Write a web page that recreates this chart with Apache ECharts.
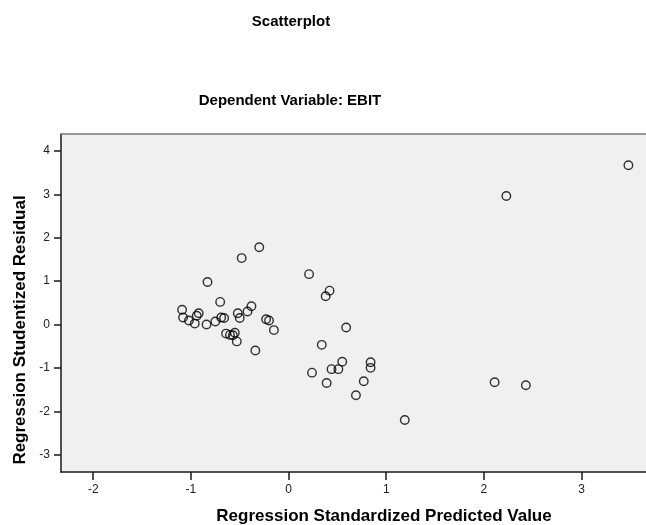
<!DOCTYPE html>
<html>
<head>
<meta charset="utf-8">
<script src="https://cdn.jsdelivr.net/npm/echarts@6/dist/echarts.min.js"></script>
<style>
html,body{margin:0;padding:0;background:#fff;}
#chart{width:646px;height:525px;}
</style>
</head>
<body>
<div id="chart"></div>
<script>
// Regression Standardized Predicted Value (x) and Studentized Residual (y)
var predicted = [-0.30, -0.48, -0.83, 0.21, 0.42, 0.38, -1.09, -1.08, -1.02, -0.96, -0.94, -0.92, -0.84, -0.75, -0.70, -0.69, -0.66, -0.64, -0.60, -0.57, -0.55, -0.53, -0.52, -0.50, -0.42, -0.38, -0.34, -0.23, -0.20, -0.15, 0.24, 0.34, 0.39, 0.44, 0.59, 0.55, 0.51, 0.84, 0.84, 0.77, 0.69, 1.19, 2.11, 2.43, 2.23, 3.48];
var residual  = [1.78, 1.53, 0.98, 1.16, 0.78, 0.65, 0.34, 0.16, 0.09, 0.02, 0.20, 0.26, 0.00, 0.07, 0.52, 0.16, 0.15, -0.21, -0.24, -0.25, -0.19, -0.39, 0.26, 0.15, 0.30, 0.42, -0.60, 0.12, 0.09, -0.13, -1.11, -0.47, -1.35, -1.03, -0.07, -0.86, -1.03, -0.87, -1.00, -1.31, -1.63, -2.20, -1.33, -1.40, 2.96, 3.67];
var xTicks = [-2, -1, 0, 1, 2, 3];
var yTicks = [-3, -2, -1, 0, 1, 2, 3, 4];
var chartTitle = 'Scatterplot';
var chartSubtitle = 'Dependent Variable: EBIT';
var xTitle = 'Regression Standardized Predicted Value';
var yTitle = 'Regression Studentized Residual';

var points = predicted.map(function (v, i) { return [v, residual[i]]; });

var chart = echarts.init(document.getElementById('chart'), null, {renderer: 'canvas'});
var FONT = '"Liberation Sans", Arial, Helvetica, sans-serif';
chart.setOption({
  animation: false,
  backgroundColor: '#ffffff',
  grid: {
    left: 61, right: 0, top: 134, bottom: 53,
    show: true, backgroundColor: '#f0f0f0', borderWidth: 0
  },
  xAxis: [{
    type: 'value', min: -2.33, max: 3.66,
    position: 'bottom',
    splitLine: {show: false},
    axisLine: {show: true, onZero: false, lineStyle: {color: '#1a1a1a', width: 1.5}},
    axisTick: {show: true, inside: false, length: 8, customValues: xTicks, lineStyle: {color: '#1a1a1a', width: 1.5}},
    axisLabel: {show: true, customValues: xTicks, margin: 12, color: '#222', fontSize: 12, fontFamily: FONT}
  }, {
    type: 'value', min: -2.33, max: 3.66,
    position: 'top',
    splitLine: {show: false},
    axisLine: {show: true, onZero: false, lineStyle: {color: '#7a7a7a', width: 1.5}},
    axisTick: {show: false},
    axisLabel: {show: false}
  }],
  yAxis: {
    type: 'value', min: -3.40, max: 4.39,
    splitLine: {show: false},
    axisLine: {show: true, onZero: false, lineStyle: {color: '#1a1a1a', width: 1.5}},
    axisTick: {show: true, inside: false, length: 7, customValues: yTicks, lineStyle: {color: '#1a1a1a', width: 1.5}},
    axisLabel: {show: true, customValues: yTicks, margin: 11, color: '#222', fontSize: 12, fontFamily: FONT}
  },
  series: [{
    type: 'scatter',
    xAxisIndex: 0,
    data: points,
    symbol: 'circle',
    symbolSize: 8.5,
    itemStyle: {color: 'rgba(0,0,0,0)', borderColor: '#000', borderWidth: 1.4}
  }],
  graphic: [
    {type: 'text', x: 291, y: 22, style: {text: chartTitle, fill: '#000', font: 'bold 15px ' + FONT, textAlign: 'center', textVerticalAlign: 'middle'}},
    {type: 'text', x: 290, y: 101, style: {text: chartSubtitle, fill: '#000', font: 'bold 15px ' + FONT, textAlign: 'center', textVerticalAlign: 'middle'}},
    {type: 'text', x: 384, y: 516, style: {text: xTitle, fill: '#000', font: 'bold 17px ' + FONT, textAlign: 'center', textVerticalAlign: 'middle'}},
    {type: 'text', x: 20, y: 330, rotation: Math.PI / 2, style: {text: yTitle, fill: '#000', font: 'bold 17px ' + FONT, textAlign: 'center', textVerticalAlign: 'middle'}}
  ]
});
</script>
</body>
</html>
